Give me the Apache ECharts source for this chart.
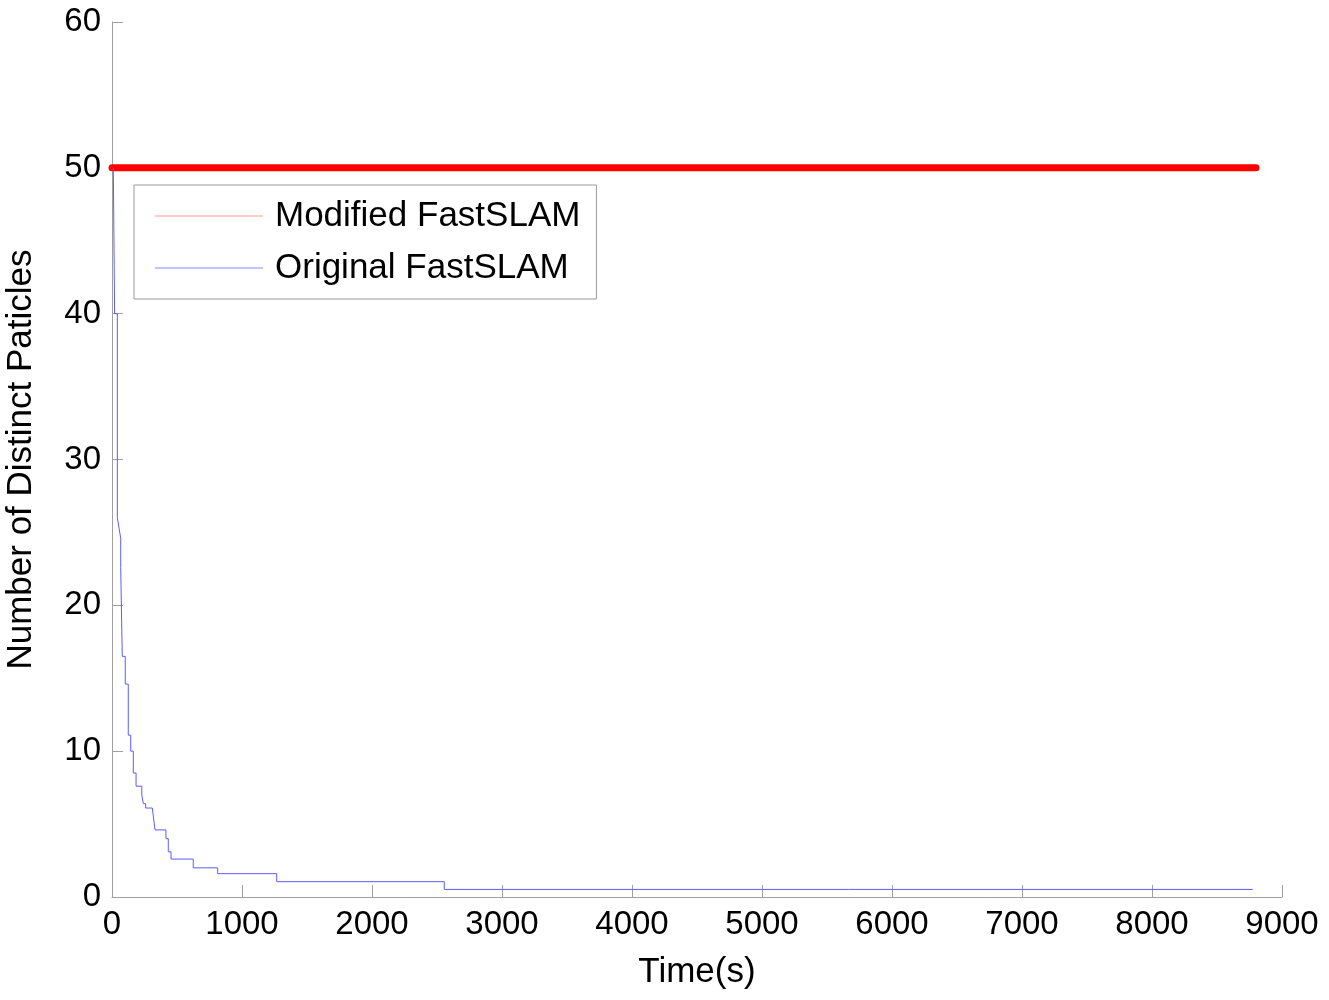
<!DOCTYPE html>
<html>
<head>
<meta charset="utf-8">
<title>Distinct particles</title>
<script src="https://cdn.jsdelivr.net/npm/echarts@6/dist/echarts.min.js"></script>
<style>
  html, body { margin: 0; padding: 0; background: #fff; }
  #chart { width: 1329px; height: 1000px; }
</style>
</head>
<body>
<div id="chart"></div>
<script>
// data
const xTicks = [0, 1000, 2000, 3000, 4000, 5000, 6000, 7000, 8000, 9000];
const yTicks = [0, 10, 20, 30, 40, 50, 60];

// Modified FastSLAM stays at 50 the whole run
const modTime = [0, 8800];
const modParticles = [50, 50];

// Original FastSLAM, step curve (time, value)
const origTime = [10, 20, 41, 41, 67, 67, 79, 79, 102, 102, 125, 125, 144, 144, 164, 164,
  185, 185, 229, 229, 241, 241, 259, 259, 310, 331, 415, 415, 433, 433, 454, 454,
  625, 625, 813, 813, 1267, 1267, 2556, 2556, 8775];
const origParticles = [50, 40, 40, 26, 24.6, 22.6, 22.6, 16.5, 16.5, 14.6, 14.6, 11.1, 11.1, 10.0, 10.0, 8.5,
  8.5, 7.6, 7.6, 7.0, 7.0, 6.4, 6.4, 6.1, 6.1, 4.6, 4.6, 4.0, 4.0, 3.1, 3.1, 2.6,
  2.6, 2.0, 2.0, 1.6, 1.6, 1.05, 1.05, 0.52, 0.52];

const zip = (xs, ys) => xs.map((x, i) => [x, ys[i]]);

const font = "'Liberation Sans', Arial, sans-serif";
const axisGray = "#a0a0a0";

const mychart = echarts.init(document.getElementById("chart"));
const option = {
  animation: false,
  backgroundColor: "#fff",
  grid: { left: 112, right: 47, top: 22, bottom: 103, outerBoundsMode: "none", containLabel: false },
  legend: {
    orient: "vertical",
    left: 134,
    top: 185,
    padding: [12, 16, 12, 21],
    borderColor: "#999",
    borderWidth: 1,
    itemGap: 14,
    itemWidth: 108,
    itemHeight: 1,
    icon: "rect",
    textStyle: { fontFamily: font, fontSize: 35, color: "#000", lineHeight: 38, padding: [0, 0, 0, 7] },
    data: [
      { name: "Modified FastSLAM", itemStyle: { color: "#ff9999" } },
      { name: "Original FastSLAM", itemStyle: { color: "#8888ff" } }
    ]
  },
  xAxis: {
    type: "value",
    min: 0,
    max: 9000,
    interval: 1000,
    name: "Time(s)",
    nameLocation: "middle",
    nameGap: 58,
    nameTextStyle: { fontFamily: font, fontSize: 35, color: "#000" },
    splitLine: { show: false },
    axisLine: { lineStyle: { color: axisGray, width: 1 } },
    axisTick: { inside: true, length: 12, lineStyle: { color: axisGray } },
    axisLabel: { fontFamily: font, fontSize: 33, color: "#000", margin: 11,
      formatter: (v) => (xTicks.includes(v) ? String(v) : "") }
  },
  yAxis: {
    type: "value",
    min: 0,
    max: 60,
    interval: 10,
    name: "Number of Distinct Paticles",
    nameLocation: "middle",
    nameGap: 73,
    nameTextStyle: { fontFamily: font, fontSize: 35, color: "#000" },
    splitLine: { show: false },
    axisLine: { show: true, lineStyle: { color: axisGray, width: 1 } },
    axisTick: { show: true, inside: true, length: 11, lineStyle: { color: axisGray } },
    axisLabel: { fontFamily: font, fontSize: 33, color: "#000", margin: 11,
      formatter: (v) => (yTicks.includes(v) ? String(v) : "") }
  },
  series: [
    {
      name: "Modified FastSLAM",
      type: "line",
      data: zip(modTime, modParticles),
      showSymbol: false,
      lineStyle: { color: "#ff0000", width: 7, cap: "round" },
      itemStyle: { color: "#ff0000" },
      z: 3
    },
    {
      name: "Original FastSLAM",
      type: "line",
      data: zip(origTime, origParticles),
      showSymbol: false,
      lineStyle: { color: "#5c5cff", width: 1 },
      itemStyle: { color: "#5c5cff" },
      z: 4
    }
  ]
};
mychart.setOption(option);
</script>
</body>
</html>
